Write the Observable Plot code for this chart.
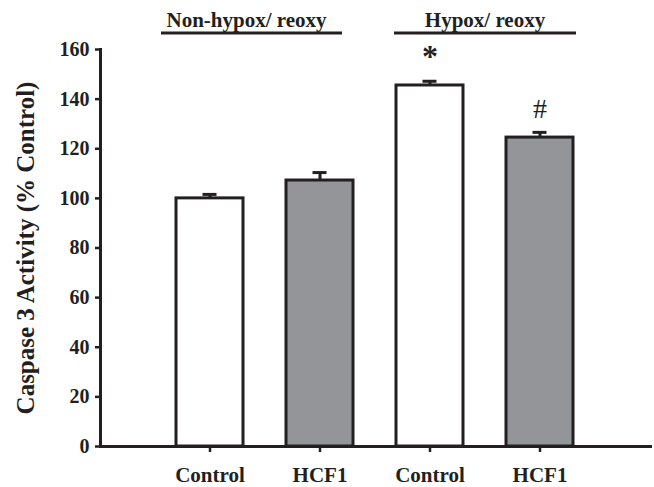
<!DOCTYPE html>
<html>
<head>
<meta charset="utf-8">
<script src="https://cdn.jsdelivr.net/npm/d3@7"></script>
<script src="https://cdn.jsdelivr.net/npm/@observablehq/plot@0.6"></script>
<style>
  html, body { margin: 0; padding: 0; background: white; }
  #chart svg { display: block; }
</style>
</head>
<body>
<div id="chart"></div>
<script>
// ---- data ----
const keys = ["nc", "nh", "hc", "hh"];
const categories = ["Control", "HCF1", "Control", "HCF1"];
const values = [100, 107.2, 145.5, 124.5];
const errors = [1.6, 3.2, 1.7, 2.1];
const treatment = ["Control", "HCF1", "Control", "HCF1"];
const marksText = ["", "", "*", "#"];
const groupLabels = ["Non-hypox/ reoxy", "Hypox/ reoxy"];
const groupMembers = [["nc", "nh"], ["hc", "hh"]];
const yTicks = [0, 20, 40, 60, 80, 100, 120, 140, 160];
const yLabel = "Caspase 3 Activity (% Control)";

const data = keys.map((k, i) => ({
  key: k, label: categories[i], value: values[i], err: errors[i],
  treat: treatment[i], mark: marksText[i]
}));

const ink = "#231f20";
const grey = "#939598";
const font = "'Liberation Serif', 'Times New Roman', serif";

const plot = Plot.plot({
  width: 654,
  height: 487,
  marginLeft: 100,
  marginRight: 4,
  marginTop: 49,
  marginBottom: 41,
  style: { fontFamily: font, fontWeight: "bold", color: ink, background: "white", overflow: "visible" },
  x: { domain: keys, paddingInner: 0.39, paddingOuter: 0.695, label: null },
  y: { domain: [0, 160], label: null },
  color: { domain: ["Control", "HCF1"], range: ["white", grey] },
  marks: [
    Plot.barY(data, { x: "key", y: "value", fill: "treat", stroke: ink, strokeWidth: 3 }),
    Plot.ruleX(data, { x: "key", y1: "value", y2: d => d.value + d.err, stroke: ink, strokeWidth: 3 }),
    Plot.tickY(data, { x: "key", y: d => d.value + d.err, stroke: ink, strokeWidth: 3, insetLeft: 26.5, insetRight: 26.5 }),
    Plot.frame({ anchor: "left", stroke: ink, strokeWidth: 3 }),
    Plot.frame({ anchor: "bottom", stroke: ink, strokeWidth: 3 }),
    Plot.axisY({ ticks: yTicks, tickSize: 5, tickPadding: 6, fontSize: 20, strokeWidth: 2.5, stroke: ink, label: null }),
    Plot.axisX({ tickFormat: k => categories[keys.indexOf(k)], tickSize: 6, tickPadding: 15, fontSize: 21, strokeWidth: 2.5, stroke: ink, label: null }),
    Plot.text([yLabel], { text: d => d, frameAnchor: "left", textAnchor: "middle", lineAnchor: "middle", dx: -75, rotate: -90, fontSize: 25, fill: ink }),
    Plot.text(data.filter(d => d.mark === "*"), { x: "key", y: d => d.value + d.err, text: "mark", lineAnchor: "bottom", dy: -14, fontSize: 32, fill: ink }),
    Plot.text(data.filter(d => d.mark === "#"), { x: "key", y: d => d.value + d.err, text: "mark", lineAnchor: "bottom", dy: -14, fontSize: 28, fontWeight: "normal", fill: ink })
  ]
});

// group brackets above the bars, positioned from the x scale
const xs = plot.scale("x");
const svg = d3.select(plot);
const ext = [[-15, -11], [-2, 3]];
groupLabels.forEach((g, i) => {
  const [a, b] = groupMembers[i];
  const x1 = xs.apply(a) + ext[i][0];
  const x2 = xs.apply(b) + xs.bandwidth + ext[i][1];
  svg.append("line")
    .attr("x1", x1).attr("x2", x2)
    .attr("y1", 33).attr("y2", 33)
    .attr("stroke", ink).attr("stroke-width", 3);
  svg.append("text")
    .attr("x", (x1 + x2) / 2 - (i === 0 ? 5 : 0)).attr("y", 27)
    .attr("text-anchor", "middle")
    .attr("font-size", 21).attr("font-weight", "bold")
    .attr("font-family", font)
    .attr("fill", ink)
    .text(g);
});

document.getElementById("chart").appendChild(plot);
</script>
</body>
</html>
